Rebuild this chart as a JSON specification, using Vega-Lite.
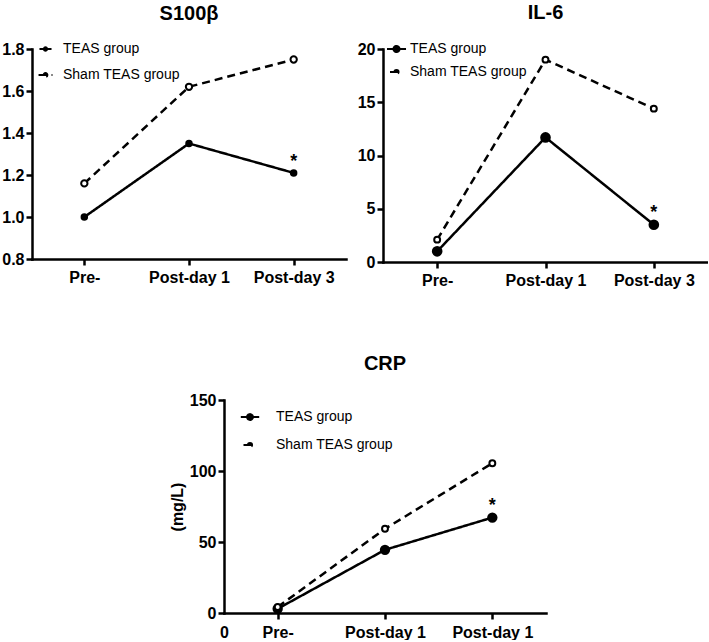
{
  "$schema": "https://vega.github.io/schema/vega-lite/v6.json",
  "background": "white",
  "padding": {"left": 1, "top": 2, "right": 0, "bottom": 0},
  "datasets": {
    "s100": [
      {"visit": "Pre-", "idx": 1, "group": "TEAS group", "value": 1.0, "sig": ""},
      {"visit": "Post-day 1", "idx": 2, "group": "TEAS group", "value": 1.35, "sig": ""},
      {"visit": "Post-day 3", "idx": 3, "group": "TEAS group", "value": 1.21, "sig": "*"},
      {"visit": "Pre-", "idx": 1, "group": "Sham TEAS group", "value": 1.16, "sig": ""},
      {"visit": "Post-day 1", "idx": 2, "group": "Sham TEAS group", "value": 1.62, "sig": ""},
      {"visit": "Post-day 3", "idx": 3, "group": "Sham TEAS group", "value": 1.75, "sig": ""}
    ],
    "il6": [
      {"visit": "Pre-", "idx": 1, "group": "TEAS group", "value": 1.0, "sig": ""},
      {"visit": "Post-day 1", "idx": 2, "group": "TEAS group", "value": 11.7, "sig": ""},
      {"visit": "Post-day 3", "idx": 3, "group": "TEAS group", "value": 3.5, "sig": "*"},
      {"visit": "Pre-", "idx": 1, "group": "Sham TEAS group", "value": 2.1, "sig": ""},
      {"visit": "Post-day 1", "idx": 2, "group": "Sham TEAS group", "value": 19.0, "sig": ""},
      {"visit": "Post-day 3", "idx": 3, "group": "Sham TEAS group", "value": 14.4, "sig": ""}
    ],
    "crp": [
      {"visit": "Pre-", "idx": 1, "group": "TEAS group", "value": 3.0, "sig": ""},
      {"visit": "Post-day 1", "idx": 2, "group": "TEAS group", "value": 44.5, "sig": ""},
      {"visit": "Post-day 1", "idx": 3, "group": "TEAS group", "value": 67.2, "sig": "*"},
      {"visit": "Pre-", "idx": 1, "group": "Sham TEAS group", "value": 4.2, "sig": ""},
      {"visit": "Post-day 1", "idx": 2, "group": "Sham TEAS group", "value": 59.3, "sig": ""},
      {"visit": "Post-day 1", "idx": 3, "group": "Sham TEAS group", "value": 105.5, "sig": ""}
    ],
    "blank": [{"note": ""}]
  },
  "config": {
    "view": {"stroke": null},
    "font": "Liberation Sans",
    "axis": {
      "domainColor": "black", "domainWidth": 2.5, "domainCap": "square",
      "tickColor": "black", "tickWidth": 2.5, "tickSize": 6,
      "labelFont": "Liberation Sans", "labelFontSize": 16, "labelFontWeight": "bold", "labelColor": "black",
      "titleFont": "Liberation Sans", "titleFontSize": 16, "titleFontWeight": "bold", "titleColor": "black",
      "grid": false
    },
    "title": {"font": "Liberation Sans", "fontSize": 20, "fontWeight": "bold", "color": "black", "frame": "group", "anchor": "middle"},
    "legend": {"labelFont": "Liberation Sans", "labelFontSize": 14, "labelFontWeight": "normal", "labelColor": "black", "padding": 0,
               "symbolStrokeWidth": 2, "symbolStrokeColor": "black", "symbolFillColor": "white"}
  },
  "resolve": {"scale": {"strokeDash": "independent", "fill": "independent", "size": "independent"}, "legend": {"strokeDash": "independent"}},
  "spacing": 66,
  "vconcat": [
    {
      "spacing": 11,
      "resolve": {"scale": {"strokeDash": "independent", "fill": "independent", "size": "independent"}, "legend": {"strokeDash": "independent"}},
      "hconcat": [
        {
          "width": 314, "height": 210,
          "title": {"text": "S100β", "offset": 16},
          "data": {"name": "s100"},
          "encoding": {
            "x": {"field": "visit", "type": "ordinal", "sort": null,
                  "scale": {"type": "point", "padding": 0.5, "domain": ["Pre-", "Post-day 1", "Post-day 3"]},
                  "axis": {"title": null, "labelAngle": 0, "labelPadding": 4}},
            "y": {"field": "value", "type": "quantitative", "scale": {"domain": [0.8, 1.8], "zero": false},
                  "axis": {"title": null, "values": [0.8, 1.0, 1.2, 1.4, 1.6, 1.8], "format": ".1f", "labelPadding": 2}},
            "order": {"field": "idx"}
          },
          "layer": [
            {
              "mark": {"type": "line", "color": "black", "strokeWidth": 2.5},
              "encoding": {
                "strokeDash": {
                  "field": "group", "type": "nominal",
                  "scale": {"domain": ["TEAS group", "Sham TEAS group"], "range": [[1, 0], [8, 5]]},
                  "legend": {
                    "title": null, "orient": "none", "legendX": 6.5, "legendY": -7,
                    "symbolType": "M-2.2,0H2.2M-0.6,0A0.6,0.6 0 1,1 0.6,0A0.6,0.6 0 1,1 -0.6,0",
                    "symbolStrokeColor": "black", "symbolStrokeWidth": 2, "symbolFillColor": "white",
                    "labelOffset": 10.5, "rowPadding": 12
                  }
                }
              }
            },
            {
              "mark": {"type": "point", "filled": true, "stroke": "black", "strokeWidth": 2, "opacity": 1},
              "encoding": {
                "fill": {"field": "group", "type": "nominal", "scale": {"domain": ["TEAS group", "Sham TEAS group"], "range": ["black", "white"]}, "legend": null},
                "size": {"field": "group", "type": "nominal", "scale": {"domain": ["TEAS group", "Sham TEAS group"], "range": [30, 40]}, "legend": null}
              }
            },
            {
              "mark": {"type": "text", "fontSize": 18, "fontWeight": "bold", "dy": -11, "color": "black"},
              "encoding": {"text": {"field": "sig"}}
            }
          ]
        },
        {
          "width": 325, "height": 213,
          "title": {"text": "IL-6", "offset": 16},
          "data": {"name": "il6"},
          "encoding": {
            "x": {"field": "visit", "type": "ordinal", "sort": null,
                  "scale": {"type": "point", "padding": 0.5, "domain": ["Pre-", "Post-day 1", "Post-day 3"]},
                  "axis": {"title": null, "labelAngle": 0, "labelPadding": 4}},
            "y": {"field": "value", "type": "quantitative", "scale": {"domain": [0, 20]},
                  "axis": {"title": null, "values": [0, 5, 10, 15, 20], "labelPadding": 2}},
            "order": {"field": "idx"}
          },
          "layer": [
            {
              "mark": {"type": "line", "color": "black", "strokeWidth": 2.5},
              "encoding": {
                "strokeDash": {
                  "field": "group", "type": "nominal",
                  "scale": {"domain": ["TEAS group", "Sham TEAS group"], "range": [[1, 0], [8, 5]]},
                  "legend": {
                    "title": null, "orient": "none", "legendX": 6.5, "legendY": -7,
                    "symbolType": "M-2.2,0H2.2M-0.7,0A0.7,0.7 0 1,1 0.7,0A0.7,0.7 0 1,1 -0.7,0",
                    "symbolStrokeColor": "black", "symbolStrokeWidth": 2, "symbolFillColor": "white",
                    "labelOffset": 6.5, "rowPadding": 8
                  }
                }
              }
            },
            {
              "mark": {"type": "point", "filled": true, "stroke": "black", "strokeWidth": 2, "opacity": 1},
              "encoding": {
                "fill": {"field": "group", "type": "nominal", "scale": {"domain": ["TEAS group", "Sham TEAS group"], "range": ["black", "white"]}, "legend": null},
                "size": {"field": "group", "type": "nominal", "scale": {"domain": ["TEAS group", "Sham TEAS group"], "range": [75, 35]}, "legend": null}
              }
            },
            {
              "mark": {"type": "text", "fontSize": 18, "fontWeight": "bold", "dy": -12, "color": "black"},
              "encoding": {"text": {"field": "sig"}}
            }
          ]
        }
      ]
    },
    {
      "spacing": 0,
      "resolve": {"scale": {"strokeDash": "independent", "fill": "independent", "size": "independent"}, "legend": {"strokeDash": "independent"}},
      "hconcat": [
        {
          "width": 137, "height": 213,
          "data": {"name": "blank"},
          "mark": {"type": "rect", "opacity": 0},
          "encoding": {}
        },
        {
          "width": 322, "height": 213,
          "title": {"text": "CRP", "offset": 18},
          "data": {"name": "crp"},
          "encoding": {
            "x": {"field": "idx", "type": "quantitative", "scale": {"domain": [0.5, 3.5]},
                  "axis": {"title": null, "values": [0.5, 1, 2, 3], "labelPadding": 5, "labelFlush": false,
                           "labelExpr": "datum.value == 0.5 ? '0' : datum.value == 1 ? 'Pre-' : 'Post-day 1'",
                           "tickOpacity": {"condition": {"test": "datum.value == 0.5", "value": 0}, "value": 1}}},
            "y": {"field": "value", "type": "quantitative", "scale": {"domain": [0, 150]},
                  "axis": {"title": "(mg/L)", "values": [0, 50, 100, 150], "labelPadding": 2, "titlePadding": 4}}
          },
          "layer": [
            {
              "mark": {"type": "line", "color": "black", "strokeWidth": 2.5},
              "encoding": {
                "strokeDash": {
                  "field": "group", "type": "nominal",
                  "scale": {"domain": ["TEAS group", "Sham TEAS group"], "range": [[1, 0], [8, 5]]},
                  "legend": {
                    "title": null, "orient": "none", "legendX": 19, "legendY": 10,
                    "symbolType": "M-2.2,0H2.2M-0.7,0A0.7,0.7 0 1,1 0.7,0A0.7,0.7 0 1,1 -0.7,0",
                    "symbolStrokeColor": "black", "symbolStrokeWidth": 2, "symbolFillColor": "white",
                    "labelOffset": 19, "rowPadding": 14
                  }
                }
              }
            },
            {
              "mark": {"type": "point", "filled": true, "stroke": "black", "strokeWidth": 2, "opacity": 1},
              "encoding": {
                "fill": {"field": "group", "type": "nominal", "scale": {"domain": ["TEAS group", "Sham TEAS group"], "range": ["black", "white"]}, "legend": null},
                "size": {"field": "group", "type": "nominal", "scale": {"domain": ["TEAS group", "Sham TEAS group"], "range": [70, 35]}, "legend": null}
              }
            },
            {
              "mark": {"type": "text", "fontSize": 18, "fontWeight": "bold", "dy": -12, "color": "black"},
              "encoding": {"text": {"field": "sig"}}
            }
          ]
        }
      ]
    }
  ]
}
